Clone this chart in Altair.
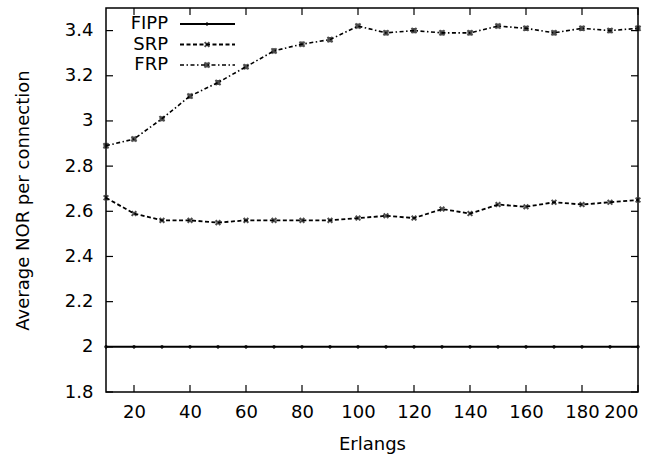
import altair as alt
import pandas as pd

erlangs = [10, 20, 30, 40, 50, 60, 70, 80, 90, 100, 110, 120, 130, 140, 150, 160, 170, 180, 190, 200]
fipp = [2.0] * 20
srp = [2.66, 2.59, 2.56, 2.56, 2.55, 2.56, 2.56, 2.56, 2.56, 2.57, 2.58, 2.57, 2.61, 2.59, 2.63, 2.62, 2.64, 2.63, 2.64, 2.65]
frp = [2.89, 2.92, 3.01, 3.11, 3.17, 3.24, 3.31, 3.34, 3.36, 3.42, 3.39, 3.40, 3.39, 3.39, 3.42, 3.41, 3.39, 3.41, 3.40, 3.41]
series_names = ["FIPP", "SRP", "FRP"]
x_ticks = [20, 40, 60, 80, 100, 120, 140, 160, 180, 200]
y_ticks = [1.8, 2.0, 2.2, 2.4, 2.6, 2.8, 3.0, 3.2, 3.4]

W, H = 532, 384
FONT = "DejaVu Sans"
FS = 18

rows = []
for name, vals in zip(series_names, [fipp, srp, frp]):
    for x, v in zip(erlangs, vals):
        rows.append({"Erlangs": x, "value": v, "series": name})
df = pd.DataFrame(rows)

dashes = {"FIPP": [1, 0], "SRP": [4, 2.5], "FRP": [4, 2.5, 1.5, 2.5]}
shapes = {
    "FIPP": "M-1,0L1,0M0,-1L0,1",
    "SRP": "M-1,-1L1,1M1,-1L-1,1",
    "FRP": "M-1,-1L1,1M1,-1L-1,1M-1,0L1,0M0,-1L0,1",
}
sizes = {"FIPP": 14, "SRP": 22, "FRP": 26}
widths = {"FIPP": 2, "SRP": 1.8, "FRP": 1.6}

xs = alt.Scale(domain=[10, 200], nice=False, zero=False)
ys = alt.Scale(domain=[1.8, 3.5], nice=False, zero=False)

layers = []
for name in series_names:
    sub = df[df.series == name]
    base = alt.Chart(sub)
    line = base.mark_line(color="black", strokeWidth=widths[name], strokeDash=dashes[name]).encode(
        x=alt.X("Erlangs:Q", scale=xs,
                axis=alt.Axis(values=x_ticks, title="Erlangs", ticks=False, domain=False, grid=False,
                              labelPadding=11, titlePadding=14)),
        y=alt.Y("value:Q", scale=ys,
                axis=alt.Axis(values=y_ticks, title="Average NOR per connection", ticks=False, domain=False,
                              grid=False, labelPadding=13, titlePadding=32,
                              labelExpr="format(datum.value, '.1~f')")),
    )
    pts = base.mark_point(shape=shapes[name], size=sizes[name], color="black", filled=False,
                          strokeWidth=2).encode(x=alt.X("Erlangs:Q", scale=xs), y=alt.Y("value:Q", scale=ys))
    layers += [line, pts]

# inside ticks (mirrored on all sides)
xt = pd.DataFrame({"t": x_ticks})
yt = pd.DataFrame({"t": y_ticks})
tick_len = 7
layers.append(alt.Chart(xt).mark_rule(color="black", strokeWidth=1.2).encode(
    x=alt.X("t:Q", scale=xs), y=alt.value(H), y2=alt.value(H - tick_len)))
layers.append(alt.Chart(xt).mark_rule(color="black", strokeWidth=1.2).encode(
    x=alt.X("t:Q", scale=xs), y=alt.value(0), y2=alt.value(tick_len)))
layers.append(alt.Chart(yt).mark_rule(color="black", strokeWidth=1.2).encode(
    y=alt.Y("t:Q", scale=ys), x=alt.value(0), x2=alt.value(tick_len)))
layers.append(alt.Chart(yt).mark_rule(color="black", strokeWidth=1.2).encode(
    y=alt.Y("t:Q", scale=ys), x=alt.value(W), x2=alt.value(W - tick_len)))

# manual legend (label left of sample, gnuplot style)
for i, name in enumerate(series_names):
    yy = 16 + i * 20.5
    one = alt.Chart(pd.DataFrame({"s": [name]}))
    layers.append(one.mark_text(align="right", baseline="middle", fontSize=FS, font=FONT, color="black").encode(
        text="s:N", x=alt.value(62), y=alt.value(yy)))
    layers.append(one.mark_rule(color="black", strokeWidth=widths[name], strokeDash=dashes[name]).encode(
        x=alt.value(74), x2=alt.value(129), y=alt.value(yy)))
    layers.append(one.mark_point(shape=shapes[name], size=sizes[name], color="black", filled=False,
                                 strokeWidth=2).encode(x=alt.value(101), y=alt.value(yy)))

chart = alt.layer(*layers).properties(
    width=W, height=H,
    background="white",
    autosize=alt.AutoSizeParams(type="none"),
    padding={"left": 106, "top": 8, "right": 21, "bottom": 65},
).configure_view(stroke="black", strokeWidth=1.5).configure_axis(
    labelFont=FONT, titleFont=FONT, labelFontSize=FS, titleFontSize=FS,
    labelColor="black", titleColor="black", titleFontWeight="normal",
)

chart.save("out.html", embed_options={"renderer": "svg", "actions": False})
